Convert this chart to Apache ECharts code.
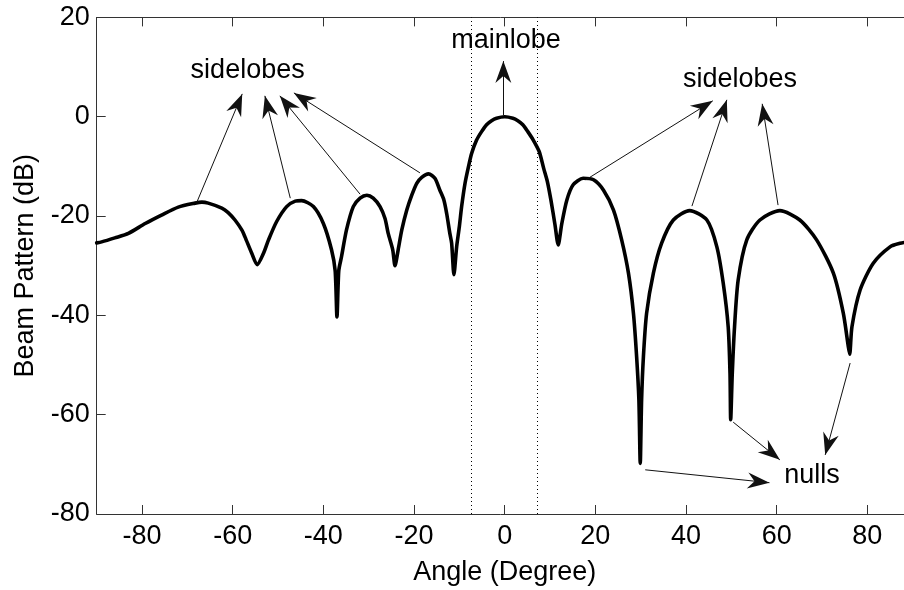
<!DOCTYPE html>
<html>
<head>
<meta charset="utf-8">
<script src="https://cdn.jsdelivr.net/npm/echarts@6/dist/echarts.min.js"></script>
<style>
  html, body { margin: 0; padding: 0; background: #fff; }
  #chart { width: 904px; height: 590px; }
</style>
</head>
<body>
<div id="chart"></div>
<script>
// Beam pattern samples: arrival angle (degrees) and response (dB)
const angles = [
  -90, -88.9, -86, -83, -79.3, -75.7, -72, -68.3, -66.8, -65.4, -62.4, -61, -59.5, -58,
  -57.3, -55.8, -54.6, -53.2, -52.1, -50.3, -48.1, -46.2, -44.8, -42.2, -40, -38.2, -37.4,
  -37, -36.6, -36, -34.9, -33.4, -31.9, -30.4, -29, -27.5, -26.4, -25.7, -24.7, -24.2,
  -23.5, -22.7, -21.6, -20.5, -19.4, -18.3, -16.8, -15.4, -14.3, -13.4, -12.8, -12.1,
  -11.7, -11.2, -10.6, -10, -9.5, -8.75, -8, -7.3, -6.2, -5.1, -4, -2.9, -1.8, 0,
  1.8, 2.9, 4, 5.1, 6.3, 7.6, 8.6, 9.4, 10.2, 11.1, 11.8, 12.6, 13.7, 15.1, 17.3,
  19.6, 21.8, 24, 25.8, 27.3, 28.4, 29.1, 29.6, 29.9, 30.2, 30.6, 31.3, 32.8, 34.6,
  37.2, 40.8, 44.6, 46.8, 48.2, 49.3, 49.7, 49.85, 50.2, 50.7, 51.5, 53.4, 56.3, 60.7,
  65.1, 68.8, 72.5, 74.7, 75.8, 76.1, 76.6, 78.4, 81.3, 85, 87.2, 90
];
const gains = [
  -25.4, -25.2, -24.4, -23.5, -21.5, -19.8, -18.2, -17.4, -17.2, -17.4, -18.4, -19.3, -20.8, -22.8,
  -24.2, -27.5, -29.8, -27.5, -24.8, -21.1, -18.1, -17, -16.9, -18.1, -21.5, -26.8, -31,
  -40.3, -31, -28.2, -22.8, -18.1, -16.4, -15.8, -16.4, -18.1, -20.5, -23.5, -26.8, -30,
  -26.8, -22.8, -18.8, -15.8, -13.4, -12.2, -11.5, -12.4, -14.8, -16.8, -19.5, -23.5,
  -25.5, -31.8, -26.2, -22.1, -18.1, -13.4, -10.1, -7.4, -4.7, -3, -1.6, -0.8, -0.3, 0,
  -0.3, -0.8, -1.6, -3, -4.7, -7, -10.4, -13, -16.8, -21.8, -25.8, -21.5, -16.8, -13.7, -12.4,
  -12.7, -14.8, -18.8, -24.8, -31.5, -39.6, -48.3, -57, -69.8, -57, -48.3, -39.6, -31.5, -25.5,
  -20.8, -18.9, -20.8, -26.2, -33.5, -42.3, -51.7, -61, -51.7, -42.3, -32.9, -24.8, -20.8, -18.9,
  -20.8, -24.8, -31.5, -39.6, -46.3, -47.8, -42.3, -34.9, -29.5, -26.2, -25.5, -25
];

// Axis ticks
const xTicks = [-80, -60, -40, -20, 0, 20, 40, 60, 80];
const yTicks = [-80, -60, -40, -20, 0, 20];

// Mainlobe boundaries (degrees)
const mainlobeEdges = [-7.4, 7.2];

// Annotation arrows in data units: [fromAngle, fromDb, toAngle, toDb]
const arrows = [
  [-67.9, -17.2, -57.9, 4.6],
  [-47.3, -16.4, -52.9, 4.2],
  [-31.9, -15.6, -49.6, 4.2],
  [-18.7, -11.3, -46.5, 4.8],
  [-0.3, 0.3, -0.3, 11.2],
  [17.9, -12.7, 45.9, 3.2],
  [41.3, -18.0, 49.0, 3.4],
  [60.3, -17.8, 56.8, 2.6],
  [31.0, -71.1, 58.4, -73.7],
  [50.4, -61.5, 60.7, -69.1],
  [76.2, -49.6, 70.7, -68.1]
];

// Annotation captions: [text, angle, dB]
const captions = [
  ['sidelobes', -56.7, 9.2],
  ['mainlobe', 0.3, 15.4],
  ['sidelobes', 51.9, 7.4],
  ['nulls', 67.8, -72.3]
];

const FONT = 'Liberation Sans, Arial, Helvetica, sans-serif';
const AXIS_COLOR = '#333';
// notched arrowhead, tip pointing up in its own frame
const headPath = 'path://M8,0 L16,22 L8,15 L0,22 Z';
const HEAD_W = 16, HEAD_H = 22;

const curve = angles.map((a, i) => [a, gains[i]]);

const chart = echarts.init(document.getElementById('chart'), null, { renderer: 'canvas' });

chart.setOption({
  animation: false,
  backgroundColor: '#fff',
  grid: {
    left: 96.7, top: 17.4, right: -8.7, bottom: 76,
    containLabel: false,
    outerBoundsMode: 'none'
  },
  xAxis: [
    {
      type: 'value', min: -90, max: 90, position: 'bottom',
      name: 'Angle (Degree)', nameLocation: 'middle', nameGap: 45,
      nameTextStyle: { fontFamily: FONT, fontSize: 27, color: '#000' },
      axisLine: { show: true, onZero: false, lineStyle: { color: AXIS_COLOR, width: 1 } },
      axisTick: { show: true, inside: true, length: 9, customValues: xTicks, lineStyle: { color: AXIS_COLOR } },
      axisLabel: { show: true, customValues: xTicks, margin: 9, fontFamily: FONT, fontSize: 27, color: '#000' },
      splitLine: { show: false }
    },
    {
      type: 'value', min: -90, max: 90, position: 'top',
      axisLine: { show: true, onZero: false, lineStyle: { color: AXIS_COLOR, width: 1 } },
      axisTick: { show: true, inside: true, length: 9, customValues: xTicks, lineStyle: { color: AXIS_COLOR } },
      axisLabel: { show: false },
      splitLine: { show: false }
    }
  ],
  yAxis: {
    type: 'value', min: -80, max: 20, interval: 20,
    name: 'Beam Pattern (dB)', nameLocation: 'middle', nameGap: 58, nameRotate: 90,
    nameTextStyle: { fontFamily: FONT, fontSize: 27, color: '#000' },
    axisLine: { show: true, onZero: false, lineStyle: { color: AXIS_COLOR, width: 1 } },
    axisTick: { show: true, inside: true, length: 9, lineStyle: { color: AXIS_COLOR } },
    axisLabel: { show: true, margin: 7, fontFamily: FONT, fontSize: 27, color: '#000' },
    splitLine: { show: false }
  },
  series: [
    {
      type: 'line',
      data: curve,
      showSymbol: false,
      symbol: 'none',
      smooth: 0.25,
      lineStyle: { color: '#000', width: 3.6, join: 'round', cap: 'round' },
      markLine: {
        silent: true,
        symbol: 'none',
        label: { show: false },
        lineStyle: { color: '#000', width: 1, type: [1, 3] },
        data: mainlobeEdges.map(v => ({ xAxis: v }))
      },
      markPoint: {
        silent: true,
        symbol: 'circle',
        symbolSize: 0,
        label: {
          show: true, position: 'inside', color: '#000',
          fontFamily: FONT, fontSize: 27,
          formatter: p => p.name
        },
        data: captions.map(c => ({ name: c[0], coord: [c[1], c[2]] }))
      }
    },
    {
      // carrier series for the annotation arrows
      type: 'line',
      data: [],
      markLine: {
        silent: true,
        symbol: ['none', headPath],
        label: { show: false },
        lineStyle: { color: '#111', width: 1, type: 'solid' },
        data: arrows.map(a => [
          { coord: [a[0], a[1]], symbol: 'none' },
          {
            coord: [a[2], a[3]],
            symbol: headPath,
            symbolSize: [HEAD_W, HEAD_H],
            symbolOffset: [0, HEAD_H / 2]
          }
        ])
      }
    }
  ]
});
</script>
</body>
</html>
